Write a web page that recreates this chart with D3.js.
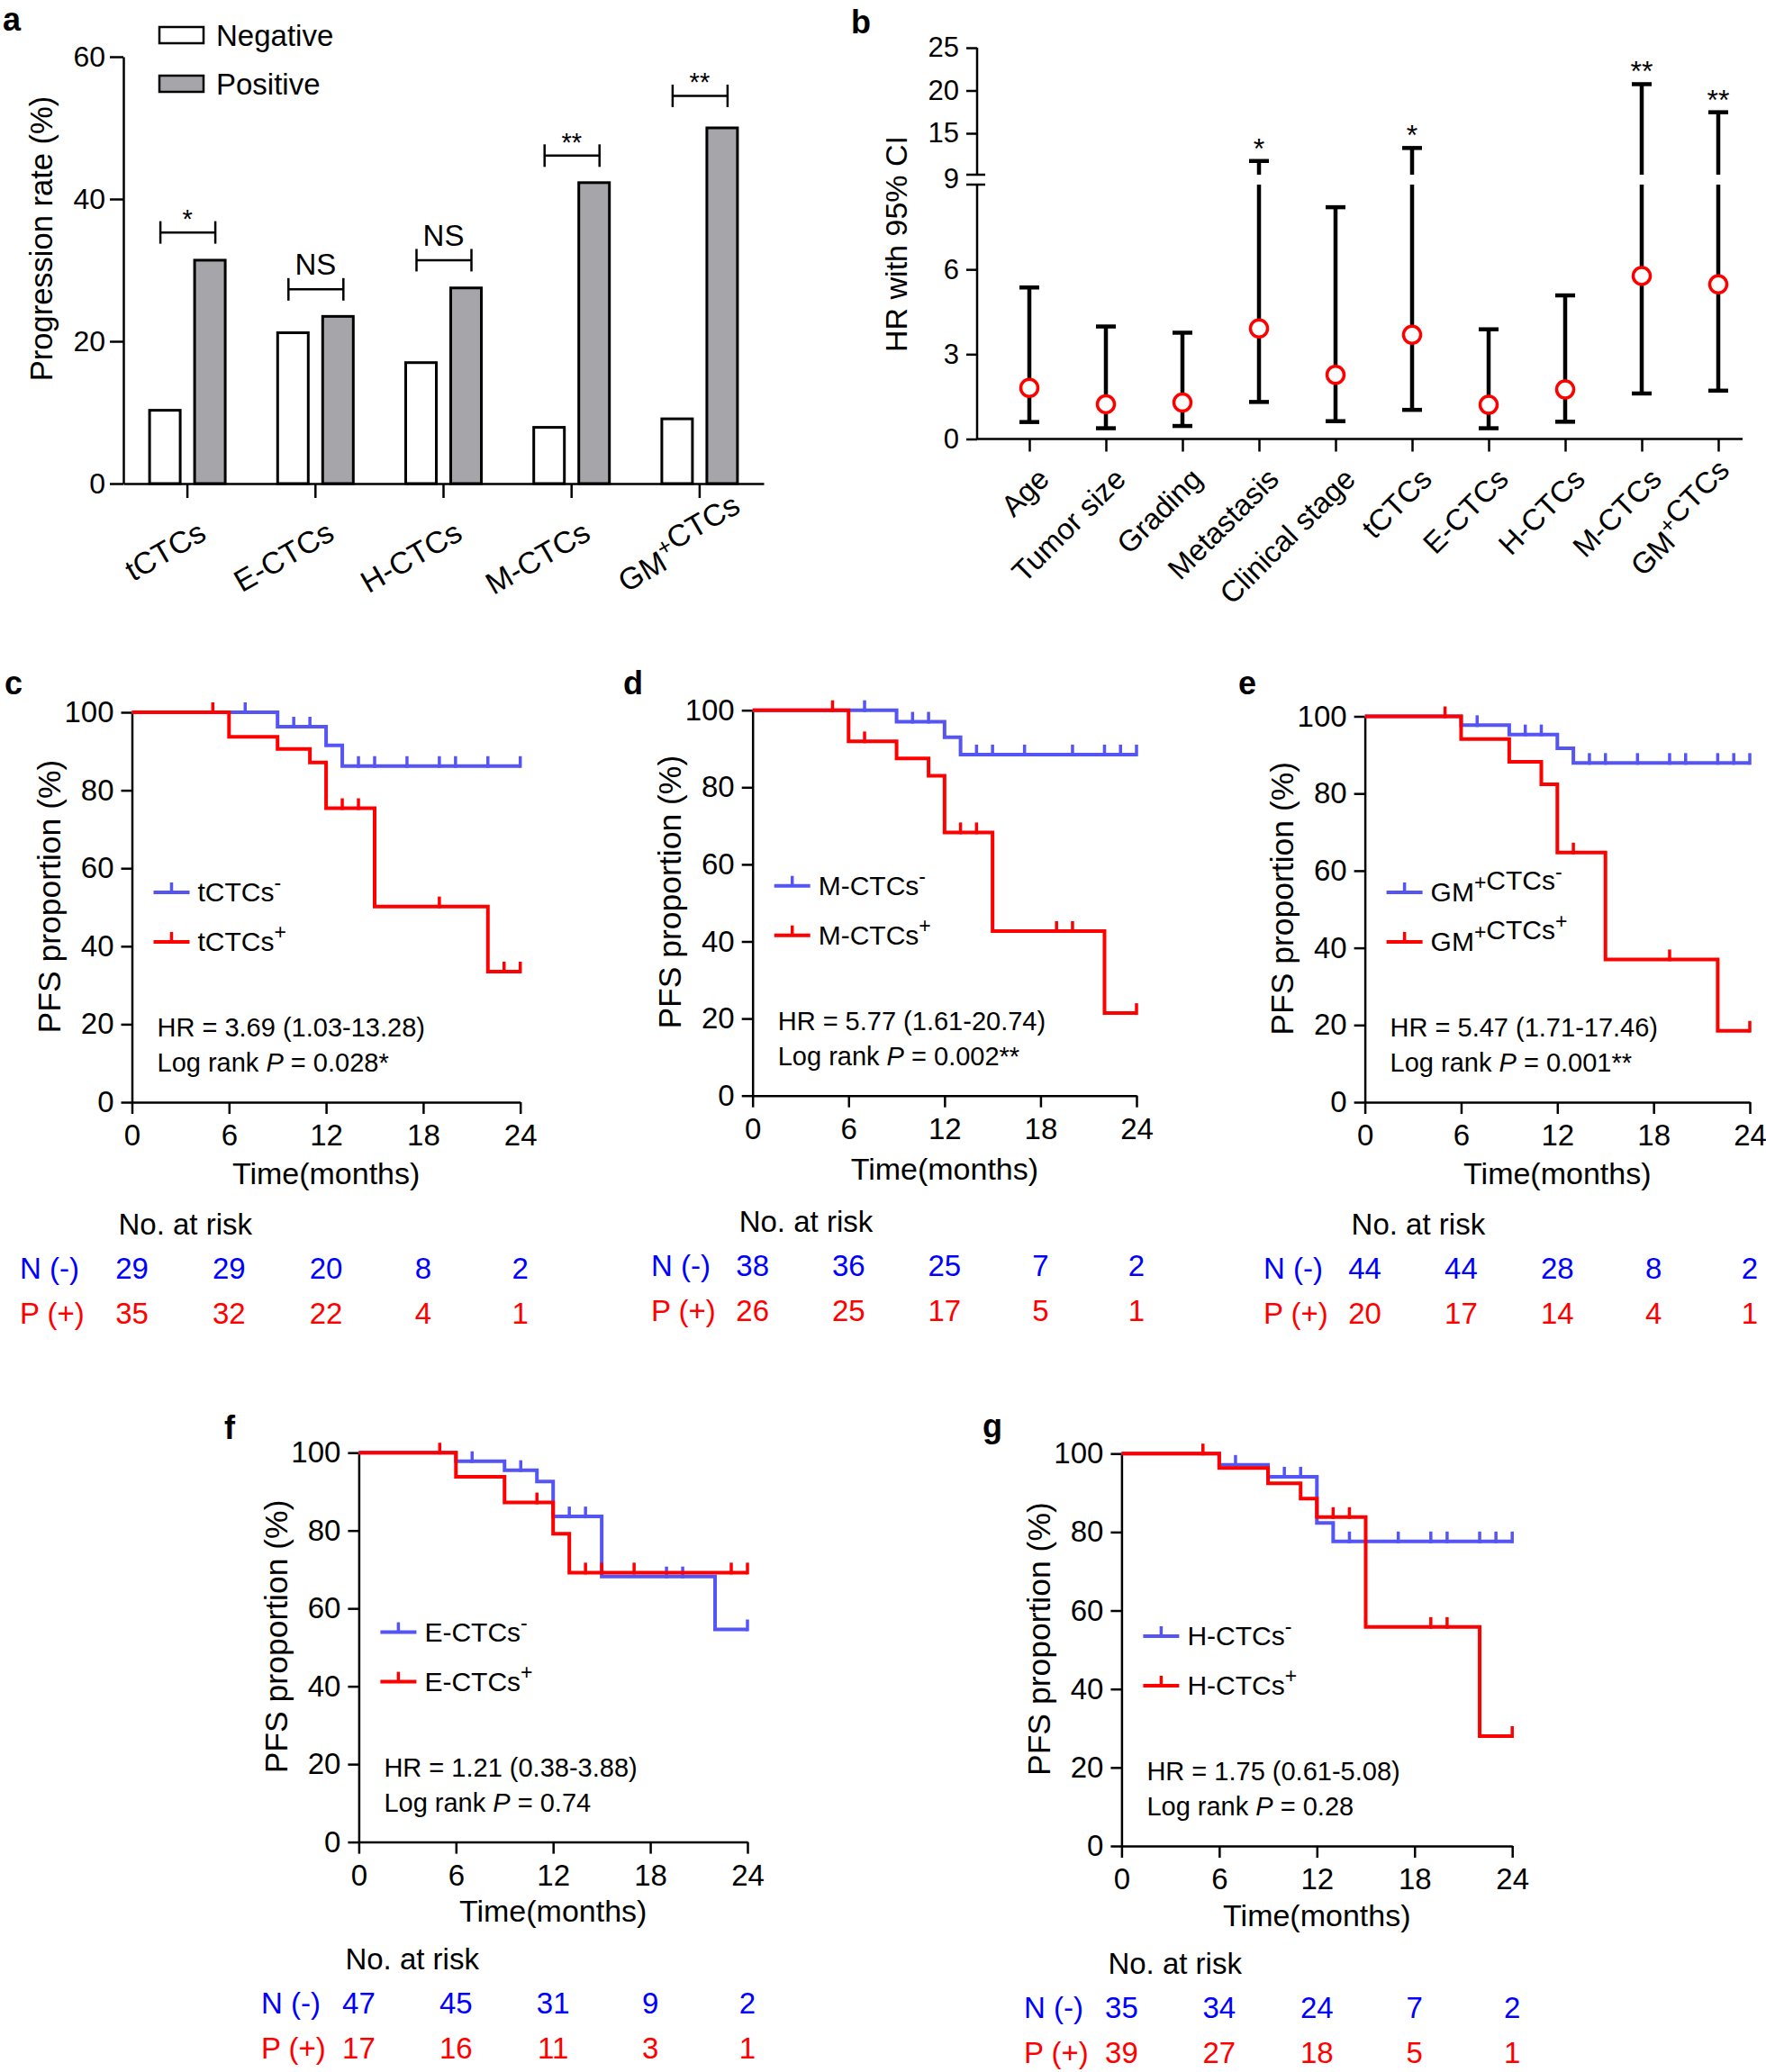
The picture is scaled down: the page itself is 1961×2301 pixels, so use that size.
<!DOCTYPE html>
<html>
<head>
<meta charset="utf-8">
<script src="https://cdn.jsdelivr.net/npm/d3@7"></script>
<style>
  body { margin: 0; background: #fff; }
</style>
</head>
<body>
<script>
const FONT = '"Liberation Sans", Arial, Helvetica, sans-serif';
const BLUE_LINE = '#5555f5', RED = '#ff0000', BLUE_TXT = '#0000ff';

// ---- a: progression rate by CTC status
const ctcTypes = ['tCTCs', 'E-CTCs', 'H-CTCs', 'M-CTCs', 'GM+CTCs'];
const negativeRate = [10.3, 21.2, 17.0, 7.9, 9.1];
const positiveRate = [31.4, 23.5, 27.5, 42.3, 50.0];
const sigA = ['*', 'NS', 'NS', '**', '**'];
const bracketA = [35.3, 27.3, 31.4, 46.1, 54.5];
const ticksA = [0, 20, 40, 60];

// ---- b: hazard ratios with 95% CI
const factors = ['Age', 'Tumor size', 'Grading', 'Metastasis', 'Clinical stage',
  'tCTCs', 'E-CTCs', 'H-CTCs', 'M-CTCs', 'GM+CTCs'];
const hrValue = [1.81, 1.23, 1.29, 3.91, 2.27, 3.69, 1.21, 1.75, 5.77, 5.47];
const ciLow = [0.60, 0.38, 0.46, 1.31, 0.63, 1.03, 0.38, 0.61, 1.61, 1.71];
const ciHigh = [5.36, 3.98, 3.76, 11.76, 8.2, 13.28, 3.88, 5.08, 20.74, 17.46];
const sigB = ['', '', '', '*', '', '*', '', '', '**', '**'];
const ticksBLow = [0, 3, 6];
const ticksBHigh = [15, 20, 25];

// ---- c-g: Kaplan-Meier PFS, [month, %] steps + censored months
const months = [0, 6, 12, 18, 24];
const pfsTicks = [0, 20, 40, 60, 80, 100];

const cNeg = [[0, 100], [9, 96.3], [12, 91.5], [13, 86.2]];
const cNegCens = [7, 10, 11, 14, 15, 17, 19, 20, 22, 24];
const cPos = [[0, 100], [6, 93.7], [9, 90.6], [11, 87.1], [12, 75.4], [15, 50.2], [22, 33.5]];
const cPosCens = [5, 13, 14, 19, 23, 24];
const cRiskN = [29, 29, 20, 8, 2];
const cRiskP = [35, 32, 22, 4, 1];

const dNeg = [[0, 100], [9, 97.0], [12, 93.0], [13, 88.5]];
const dNegCens = [7, 10, 11, 14, 15, 17, 20, 22, 23, 24];
const dPos = [[0, 100], [6, 91.9], [9, 87.5], [11, 83.0], [12, 68.3], [15, 42.7], [22, 21.4]];
const dPosCens = [5, 7, 13, 14, 19, 20, 24];
const dRiskN = [38, 36, 25, 7, 2];
const dRiskP = [26, 25, 17, 5, 1];

const eNeg = [[0, 100], [6, 97.7], [9, 95.3], [12, 91.7], [13, 87.9]];
const eNegCens = [7, 10, 11, 14, 15, 17, 19, 20, 22, 23, 24];
const ePos = [[0, 100], [6, 94.1], [9, 88.2], [11, 82.4], [12, 64.7], [15, 37.0], [22, 18.5]];
const ePosCens = [5, 13, 19, 24];
const eRiskN = [44, 44, 28, 8, 2];
const eRiskP = [20, 17, 14, 4, 1];

const fNeg = [[0, 100], [6, 97.8], [9, 95.5], [11, 92.6], [12, 83.6], [15, 68.2], [22, 54.6]];
const fNegCens = [7, 10, 13, 14, 19, 20, 24];
const fPos = [[0, 100], [6, 93.8], [9, 87.2], [12, 79.2], [13, 69.2]];
const fPosCens = [5, 11, 14, 15, 17, 23, 24];
const fRiskN = [47, 45, 31, 9, 2];
const fRiskP = [17, 16, 11, 3, 1];

const gNeg = [[0, 100], [6, 97.1], [9, 94.1], [12, 82.3], [13, 77.6]];
const gNegCens = [7, 10, 11, 14, 17, 19, 20, 22, 23, 24];
const gPos = [[0, 100], [6, 96.3], [9, 92.4], [11, 88.5], [12, 83.8], [15, 55.8], [22, 28.0]];
const gPosCens = [5, 13, 14, 19, 20, 24];
const gRiskN = [35, 34, 24, 7, 2];
const gRiskP = [39, 27, 18, 5, 1];

const svg = d3.select('body').append('svg')
  .attr('width', 1961).attr('height', 2301)
  .attr('font-family', FONT);

function styleAxis(g, size) {
  g.attr('font-family', FONT).attr('font-size', size);
  g.selectAll('path, line').attr('stroke', '#000').attr('stroke-width', 2.5);
  g.selectAll('text').attr('fill', '#000');
}

// '^x' in a label means x is a superscript
function rich(text, str, size) {
  const sup = Math.round(size * 0.75);
  str.split(/(\^.)/).filter(s => s).forEach(s => {
    if (s[0] === '^') {
      text.append('tspan').attr('font-size', sup).attr('dy', -size * 0.42).text(s[1]);
      text.append('tspan').attr('dy', size * 0.42).text('');
    } else {
      text.append('tspan').text(s);
    }
  });
}
const supGM = s => s.replace('GM+', 'GM^+');

function letter(ch, x, y) {
  svg.append('text').attr('x', x).attr('y', y).attr('font-size', 36)
    .attr('font-weight', 'bold').text(ch);
}

// ================= panel a =================
(function () {
  const a = svg.append('g');
  const x = d3.scaleBand().domain(ctcTypes).range([137, 848]);
  const y = d3.scaleLinear().domain([0, 60]).range([537, 63]);
  const cx = d => x(d) + x.bandwidth() / 2;

  a.append('g').attr('transform', 'translate(137,0)')
    .call(d3.axisLeft(y).tickValues(ticksA).tickSize(15).tickSizeOuter(0).tickPadding(5))
    .call(g => styleAxis(g, 32));
  a.append('g').attr('transform', 'translate(0,537)')
    .call(d3.axisBottom(x).tickSize(16).tickSizeOuter(0).tickFormat(''))
    .call(g => styleAxis(g, 32));

  const barW = 34, off = 25;
  a.selectAll('rect.neg').data(ctcTypes).join('rect').attr('class', 'neg')
    .attr('x', d => cx(d) - off - barW / 2)
    .attr('y', (d, i) => y(negativeRate[i]))
    .attr('width', barW)
    .attr('height', (d, i) => y(0) - y(negativeRate[i]))
    .attr('fill', '#fff').attr('stroke', '#000').attr('stroke-width', 3);
  a.selectAll('rect.pos').data(ctcTypes).join('rect').attr('class', 'pos')
    .attr('x', d => cx(d) + off - barW / 2)
    .attr('y', (d, i) => y(positiveRate[i]))
    .attr('width', barW)
    .attr('height', (d, i) => y(0) - y(positiveRate[i]))
    .attr('fill', '#a6a6aa').attr('stroke', '#000').attr('stroke-width', 3);

  // significance brackets
  ctcTypes.forEach((d, i) => {
    const by = y(bracketA[i]), x1 = cx(d) - 30, x2 = cx(d) + 31;
    const br = a.append('g').attr('stroke', '#000').attr('stroke-width', 2.5);
    br.append('line').attr('x1', x1).attr('x2', x2).attr('y1', by).attr('y2', by);
    [x1, x2].forEach(xx => br.append('line').attr('x1', xx).attr('x2', xx)
      .attr('y1', by - 12.5).attr('y2', by + 12.5));
    const ns = sigA[i] === 'NS';
    a.append('text').attr('x', cx(d)).attr('y', ns ? by - 16 : by - 5)
      .attr('text-anchor', 'middle').attr('font-size', ns ? 33 : 29).text(sigA[i]);
  });

  // category labels (the superscripted one sits further along its baseline)
  ctcTypes.forEach(d => {
    const t = a.append('text').attr('text-anchor', 'end').attr('font-size', 34)
      .attr('x', d.includes('+') ? 36 : 0)
      .attr('transform', `translate(${cx(d) + 23},598) rotate(-30)`);
    rich(t, supGM(d), 34);
  });

  a.append('text').attr('transform', 'translate(46,265) rotate(-90)')
    .attr('text-anchor', 'middle').attr('dy', '0.35em').attr('font-size', 34.5)
    .text('Progression rate (%)');

  // legend
  [['Negative', '#fff', 30], ['Positive', '#a6a6aa', 84]].forEach(([lab, fill, ly]) => {
    a.append('rect').attr('x', 177).attr('y', ly).attr('width', 49).attr('height', 18)
      .attr('fill', fill).attr('stroke', '#000').attr('stroke-width', 2.5);
    a.append('text').attr('x', 240).attr('y', ly + 21).attr('font-size', 33).text(lab);
  });
  letter('a', 3, 34);
})();

// ================= panel b =================
(function () {
  const b = svg.append('g');
  const x = d3.scalePoint().domain(factors).range([1143, 1908]);
  const y = d3.scaleLinear().domain([0, 9, 25]).range([487.5, 205, 53]);
  const axX = 1085, brkLo = y(9), brkHi = y(9) - 11;

  b.append('g').attr('transform', `translate(${axX},0)`)
    .call(d3.axisLeft(y).tickValues(ticksBLow.concat(ticksBHigh)).tickSize(12).tickPadding(8))
    .call(g => g.select('.domain').remove())
    .call(g => styleAxis(g, 31));
  const ax = b.append('g').attr('stroke', '#000').attr('stroke-width', 2.5);
  ax.append('line').attr('x1', axX).attr('x2', axX).attr('y1', y(0)).attr('y2', brkLo);
  ax.append('line').attr('x1', axX).attr('x2', axX).attr('y1', brkHi).attr('y2', y(25));
  [brkLo, brkHi].forEach(v => ax.append('line').attr('x1', axX - 12).attr('x2', axX + 9)
    .attr('y1', v).attr('y2', v));
  b.append('text').attr('x', axX - 20).attr('y', (brkLo + brkHi) / 2).attr('dy', '0.32em')
    .attr('text-anchor', 'end').attr('font-size', 31).text('9');

  b.append('g').attr('transform', `translate(0,${y(0)})`)
    .call(d3.axisBottom(x).tickSize(14).tickFormat(''))
    .call(g => g.select('.domain').remove())
    .call(g => styleAxis(g, 31));
  ax.append('line').attr('x1', axX).attr('x2', 1935).attr('y1', y(0)).attr('y2', y(0));

  // CI bars, with the axis break carried through
  factors.forEach((f, i) => {
    const xx = x(f);
    const eb = b.append('g').attr('stroke', '#000').attr('stroke-width', 4.5);
    const segs = ciHigh[i] <= 9 ? [[y(ciLow[i]), y(ciHigh[i])]]
      : [[y(ciLow[i]), brkLo], [brkHi, y(ciHigh[i])]];
    segs.forEach(([y1, y2]) => eb.append('line').attr('x1', xx).attr('x2', xx)
      .attr('y1', y1).attr('y2', y2));
    [ciLow[i], ciHigh[i]].forEach(v => eb.append('line')
      .attr('x1', xx - 11).attr('x2', xx + 11).attr('y1', y(v)).attr('y2', y(v)));
    if (sigB[i]) {
      b.append('text').attr('x', xx).attr('y', y(ciHigh[i]) - 3)
        .attr('text-anchor', 'middle').attr('font-size', 32).text(sigB[i]);
    }
  });
  b.selectAll('circle').data(factors).join('circle')
    .attr('cx', d => x(d)).attr('cy', (d, i) => y(hrValue[i])).attr('r', 9.5)
    .attr('fill', '#fff').attr('stroke', RED).attr('stroke-width', 3.5);

  factors.forEach(f => {
    const t = b.append('text').attr('text-anchor', 'end').attr('font-size', 33)
      .attr('transform', `translate(${x(f) + 24},534) rotate(-45)`);
    rich(t, supGM(f), 33);
  });

  b.append('text').attr('transform', 'translate(995,271) rotate(-90)')
    .attr('text-anchor', 'middle').attr('dy', '0.35em').attr('font-size', 34)
    .text('HR with 95% CI');
  letter('b', 945, 37);
})();

// ================= panels c-g =================
function survAt(steps, t) {
  let v = steps[0][1];
  steps.forEach(s => { if (s[0] <= t) v = s[1]; });
  return v;
}

function drawKM(p) {
  const g = svg.append('g');
  const x = d3.scaleLinear().domain([0, 24]).range([p.x0, p.x1]);
  const y = d3.scaleLinear().domain([0, 100]).range([p.yBot, p.yTop]);

  g.append('g').attr('transform', `translate(${p.x0},0)`)
    .call(d3.axisLeft(y).tickValues(pfsTicks).tickSize(12).tickSizeOuter(0).tickPadding(8))
    .call(ax => styleAxis(ax, 33));
  g.append('g').attr('transform', `translate(0,${p.yBot})`)
    .call(d3.axisBottom(x).tickValues(months).tickSize(13).tickSizeOuter(0).tickPadding(12))
    .call(ax => styleAxis(ax, 33));

  const line = d3.line().x(d => x(d[0])).y(d => y(d[1])).curve(d3.curveStepAfter);
  const groups = [
    { steps: p.neg, cens: p.negCens, color: BLUE_LINE },
    { steps: p.pos, cens: p.posCens, color: RED }
  ];
  groups.forEach(s => {
    const pts = s.steps.concat([[24, s.steps[s.steps.length - 1][1]]]);
    g.append('path').attr('d', line(pts)).attr('fill', 'none')
      .attr('stroke', s.color).attr('stroke-width', 4);
    g.append('g').selectAll('line').data(s.cens).join('line')
      .attr('x1', t => x(t)).attr('x2', t => x(t))
      .attr('y1', t => y(survAt(s.steps, t)) + 2)
      .attr('y2', t => y(survAt(s.steps, t)) - 11)
      .attr('stroke', s.color).attr('stroke-width', 3.5);
  });

  // legend
  [[p.name + '^-', BLUE_LINE, 233], [p.name + '^+', RED, 178]].forEach(([lab, col, dy]) => {
    const ly = p.yBot - dy, lx = p.x0 + 24;
    g.append('line').attr('x1', lx).attr('x2', lx + 40).attr('y1', ly).attr('y2', ly)
      .attr('stroke', col).attr('stroke-width', 4);
    g.append('line').attr('x1', lx + 20).attr('x2', lx + 20).attr('y1', ly).attr('y2', ly - 11)
      .attr('stroke', col).attr('stroke-width', 3.5);
    const t = g.append('text').attr('x', lx + 49).attr('y', ly + 10).attr('font-size', 30);
    rich(t, lab, 30);
  });

  g.append('text').attr('x', p.x0 + 28).attr('y', p.yBot - 73).attr('font-size', 29).text(p.hr);
  const lr = g.append('text').attr('x', p.x0 + 28).attr('y', p.yBot - 34).attr('font-size', 29);
  lr.append('tspan').text('Log rank ');
  lr.append('tspan').attr('font-style', 'italic').text('P');
  lr.append('tspan').text(' = ' + p.p);

  g.append('text').attr('x', (p.x0 + p.x1) / 2).attr('y', p.yBot + 93 + p.rk / 2)
    .attr('text-anchor', 'middle').attr('font-size', 34).text('Time(months)');
  g.append('text').attr('transform', `translate(${p.x0 - 92},${(p.yBot + p.yTop) / 2 - 12}) rotate(-90)`)
    .attr('text-anchor', 'middle').attr('dy', '0.35em').attr('font-size', 35.5)
    .text('PFS proportion (%)');

  // numbers at risk
  g.append('text').attr('x', p.x0 - 15).attr('y', p.yBot + 151 + p.rk).attr('font-size', 33)
    .text('No. at risk');
  [['N (-)', p.riskN, BLUE_TXT, 200], ['P (+)', p.riskP, RED, 250]].forEach(([lab, vals, col, dy]) => {
    g.append('text').attr('x', p.rowX).attr('y', p.yBot + dy + p.rk).attr('font-size', 33)
      .attr('fill', col).text(lab);
    g.append('g').selectAll('text').data(vals).join('text')
      .attr('x', (v, i) => x(months[i])).attr('y', p.yBot + dy + p.rk)
      .attr('text-anchor', 'middle').attr('font-size', 33).attr('fill', col).text(v => v);
  });

  letter(p.id, p.lx, p.ly);
}

const kmPanels = [
  { id: 'c', name: 'tCTCs', neg: cNeg, negCens: cNegCens, pos: cPos, posCens: cPosCens,
    riskN: cRiskN, riskP: cRiskP, hr: 'HR = 3.69 (1.03-13.28)', p: '0.028*',
    x0: 146.5, x1: 577.7, yTop: 791, yBot: 1224, rowX: 22, lx: 5, ly: 771, rk: -4 },
  { id: 'd', name: 'M-CTCs', neg: dNeg, negCens: dNegCens, pos: dPos, posCens: dPosCens,
    riskN: dRiskN, riskP: dRiskP, hr: 'HR = 5.77 (1.61-20.74)', p: '0.002**',
    x0: 835.7, x1: 1262, yTop: 788.7, yBot: 1216.7, rowX: 723, lx: 692, ly: 771, rk: 0 },
  { id: 'e', name: 'GM^+CTCs', neg: eNeg, negCens: eNegCens, pos: ePos, posCens: ePosCens,
    riskN: eRiskN, riskP: eRiskP, hr: 'HR = 5.47 (1.71-17.46)', p: '0.001**',
    x0: 1515.6, x1: 1943, yTop: 795.5, yBot: 1224, rowX: 1403, lx: 1375, ly: 771, rk: -4 },
  { id: 'f', name: 'E-CTCs', neg: fNeg, negCens: fNegCens, pos: fPos, posCens: fPosCens,
    riskN: fRiskN, riskP: fRiskP, hr: 'HR = 1.21 (0.38-3.88)', p: '0.74',
    x0: 398.4, x1: 830, yTop: 1613.2, yBot: 2045.6, rowX: 290, lx: 249, ly: 1598, rk: -10 },
  { id: 'g', name: 'H-CTCs', neg: gNeg, negCens: gNegCens, pos: gPos, posCens: gPosCens,
    riskN: gRiskN, riskP: gRiskP, hr: 'HR = 1.75 (0.61-5.08)', p: '0.28',
    x0: 1245.4, x1: 1679.2, yTop: 1614.2, yBot: 2050, rowX: 1137, lx: 1091, ly: 1596, rk: -9 }
];
kmPanels.forEach(drawKM);
</script>
</body>
</html>
